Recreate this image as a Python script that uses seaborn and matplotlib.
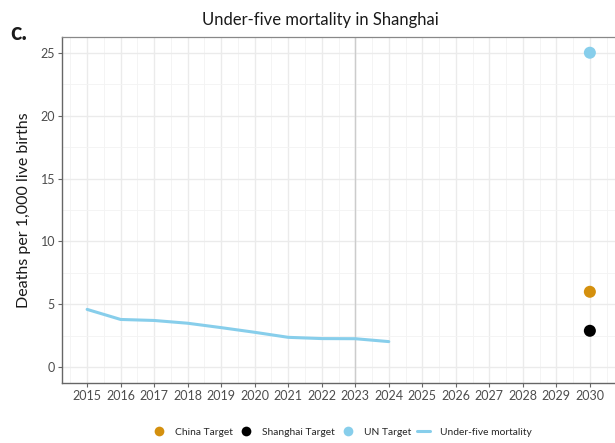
import numpy as np
import pandas as pd
import matplotlib
matplotlib.use("Agg")
import matplotlib.pyplot as plt
from matplotlib.lines import Line2D
import seaborn as sns

# Under-five mortality in Shanghai (deaths per 1,000 live births)
years = [2015, 2016, 2017, 2018, 2019, 2020, 2021, 2022, 2023, 2024]
mortality = [4.6, 3.8, 3.72, 3.5, 3.15, 2.78, 2.38, 2.28, 2.27, 2.04]

# 2030 targets
target_names = ["China Target", "Shanghai Target", "UN Target"]
target_years = [2030, 2030, 2030]
target_values = [6.0, 2.9, 25.0]
target_colors = ["#D4900E", "#000000", "#87CEEB"]
line_color = "#87CEEB"

x_ticks = list(range(2015, 2031))
y_ticks = [0, 5, 10, 15, 20, 25]

sns.set_theme(style="white")
plt.rcParams["font.family"] = ["Lato", "DejaVu Sans"]

fig = plt.figure(figsize=(6.15, 4.43), dpi=100)
ax = fig.add_axes([62 / 615, 1 - 383 / 443, 1 - 62 / 615, (383 - 37) / 443])

line_df = pd.DataFrame({"year": years, "value": mortality})
target_df = pd.DataFrame({"year": target_years, "value": target_values,
                          "target": target_names})

# grid: major and minor lines
ax.set_xticks(x_ticks)
ax.set_yticks(y_ticks)
ax.set_xticks([x + 0.5 for x in range(2014, 2031)], minor=True)
ax.set_yticks([-2.5 + 5 * i for i in range(7)], minor=True)
ax.grid(True, which="major", color="#EBEBEB", linewidth=1.0)
ax.grid(True, which="minor", color="#F3F3F3", linewidth=0.6)
ax.set_axisbelow(True)

ax.axvline(2023, color="#CCCCCC", linewidth=1.0, zorder=1)

sns.lineplot(data=line_df, x="year", y="value", color=line_color,
             linewidth=2.2, ax=ax, zorder=3)
sns.scatterplot(data=target_df, x="year", y="value", hue="target",
                palette=dict(zip(target_names, target_colors)),
                s=75, edgecolor="none", ax=ax, zorder=4, legend=False)

ax.set_xlim(2014.25, 2030.75)
ax.set_ylim(-1.25, 26.25)
ax.set_xticklabels([str(x) for x in x_ticks])

for side in ["left", "bottom"]:
    ax.spines[side].set_color("#666666")
    ax.spines[side].set_linewidth(1.0)
ax.spines["top"].set_color("#888888")
ax.spines["top"].set_linewidth(0.9)
ax.spines["right"].set_visible(False)

ax.tick_params(axis="both", which="major", length=3, width=0.8,
               color="#666666", labelcolor="#4D4D4D", labelsize=9,
               bottom=True, left=True, pad=2)
ax.tick_params(axis="both", which="minor", length=0)

ax.set_xlabel("")
ax.set_ylabel("Deaths per 1,000 live births", fontsize=11.5,
              color="#1A1A1A", labelpad=7)

fig.text(320 / 615, 1 - 20 / 443, "Under-five mortality in Shanghai",
         ha="center", va="center", fontsize=12, color="#1A1A1A")
fig.text(10 / 615, 1 - 33 / 443, "c.", ha="left", va="center",
         fontsize=17, fontweight="bold", color="#1A1A1A")

handles = [Line2D([], [], marker="o", linestyle="", markersize=7,
                  markerfacecolor=c, markeredgecolor="none")
           for c in target_colors]
handles.append(Line2D([], [], color=line_color, linewidth=2.2))
labels = target_names + ["Under-five mortality"]
fig.legend(handles, labels, loc="center", bbox_to_anchor=(342 / 615, 1 - 432 / 443),
           ncol=4, frameon=False, fontsize=7.4, handlelength=1.3,
           handletextpad=0.9, columnspacing=0.6)

fig.savefig("out.png", dpi=100)
